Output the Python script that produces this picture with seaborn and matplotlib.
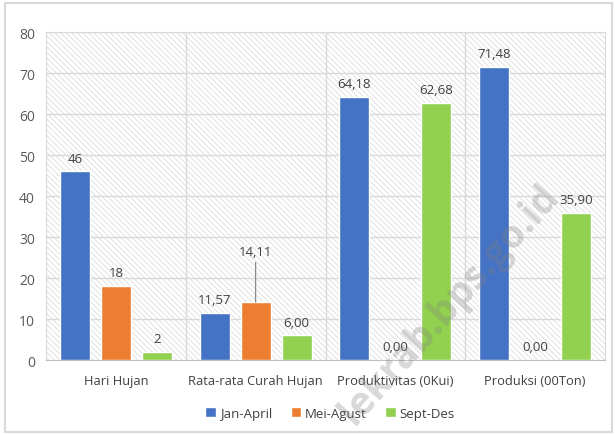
import pandas as pd
import matplotlib
matplotlib.use("Agg")
import matplotlib.pyplot as plt
import matplotlib.patches as mpatches
import seaborn as sns

kategori = ["Hari Hujan", "Rata-rata Curah Hujan", "Produktivitas (0Kui)", "Produksi (00Ton)"]
periode = ["Jan-April", "Mei-Agust", "Sept-Des"]
jan_april = [46, 11.57, 64.18, 71.48]
mei_agust = [18, 14.11, 0.00, 0.00]
sept_des = [2, 6.00, 62.68, 35.90]
warna = ["#4472C4", "#ED7D31", "#92D050"]
y_ticks = [0, 10, 20, 30, 40, 50, 60, 70, 80]

data = pd.DataFrame({
    "kategori": kategori * 3,
    "periode": [p for p in periode for _ in kategori],
    "nilai": jan_april + mei_agust + sept_des,
})

sns.set_style("white")
plt.rcParams["font.family"] = ["Open Sans", "DejaVu Sans"]
plt.rcParams["hatch.color"] = "#dcdcdc"
plt.rcParams["hatch.linewidth"] = 0.6

fig = plt.figure(figsize=(6.15, 4.35), dpi=100)
ax = fig.add_axes([0.0748, 0.170, 0.909, 0.754])

# latar bergaris miring
ax.add_patch(mpatches.Rectangle((0, 0), 1, 1, transform=ax.transAxes, facecolor="white",
                                edgecolor="#dcdcdc", hatch="\\\\\\\\\\\\", linewidth=0, zorder=0))

sns.barplot(data=data, x="kategori", y="nilai", hue="periode", palette=warna,
            width=0.88, gap=0.27, ax=ax, zorder=3, saturation=1)

ax.set_ylim(0, 80)
ax.set_xlim(-0.5, 3.5)
ax.set_yticks(y_ticks)
ax.set_xlabel("")
ax.set_ylabel("")
for y in y_ticks[1:]:
    ax.axhline(y, color="#d9d9d9", lw=1, zorder=1)
for x in [0.5, 1.5, 2.5]:
    ax.axvline(x, color="#d9d9d9", lw=1, zorder=1)
for s in ax.spines.values():
    s.set_color("#d9d9d9")
ax.spines["bottom"].set_color("#bfbfbf")
ax.tick_params(axis="y", length=0, labelsize=10, labelcolor="#595959", pad=8)
ax.tick_params(axis="x", length=0, labelsize=9.3, labelcolor="#404040", pad=10)

# label nilai
for container, nilai_list in zip(ax.containers, [jan_april, mei_agust, sept_des]):
    for i, (bar, v) in enumerate(zip(container, nilai_list)):
        teks = f"{v:.0f}" if i == 0 else f"{v:.2f}".replace(".", ",")
        xc = bar.get_x() + bar.get_width() / 2
        if teks == "14,11":
            ax.annotate(teks, (xc, bar.get_height()), xytext=(0, 32), textcoords="offset points",
                        ha="center", va="bottom", fontsize=9.5, color="#404040",
                        arrowprops=dict(arrowstyle="-", color="#7f7f7f", lw=0.8, shrinkA=1, shrinkB=0))
        else:
            ax.annotate(teks, (xc, bar.get_height()), xytext=(0, 5), textcoords="offset points",
                        ha="center", va="bottom", fontsize=9.5, color="#404040")

handles, labels = ax.get_legend_handles_labels()
ax.legend_.remove()
fig.legend(handles, labels, loc="center", bbox_to_anchor=(0.537, 0.048), ncol=3, frameon=False,
           fontsize=9.5, handlelength=0.8, handleheight=0.8, handletextpad=0.3, columnspacing=1.4,
           labelcolor="#404040")

# bingkai luar
fig.add_artist(mpatches.Rectangle((0.008, 0.005), 0.987, 0.986, transform=fig.transFigure,
                                  fill=False, edgecolor="#d9d9d9", lw=1.5))

# watermark
fig.text(0.73, 0.30, "lekrab.bps.go.id", rotation=48, fontsize=28, weight="bold",
         color="#808080", alpha=0.3, ha="center", va="center", zorder=10)

fig.savefig("out.png", dpi=100)
